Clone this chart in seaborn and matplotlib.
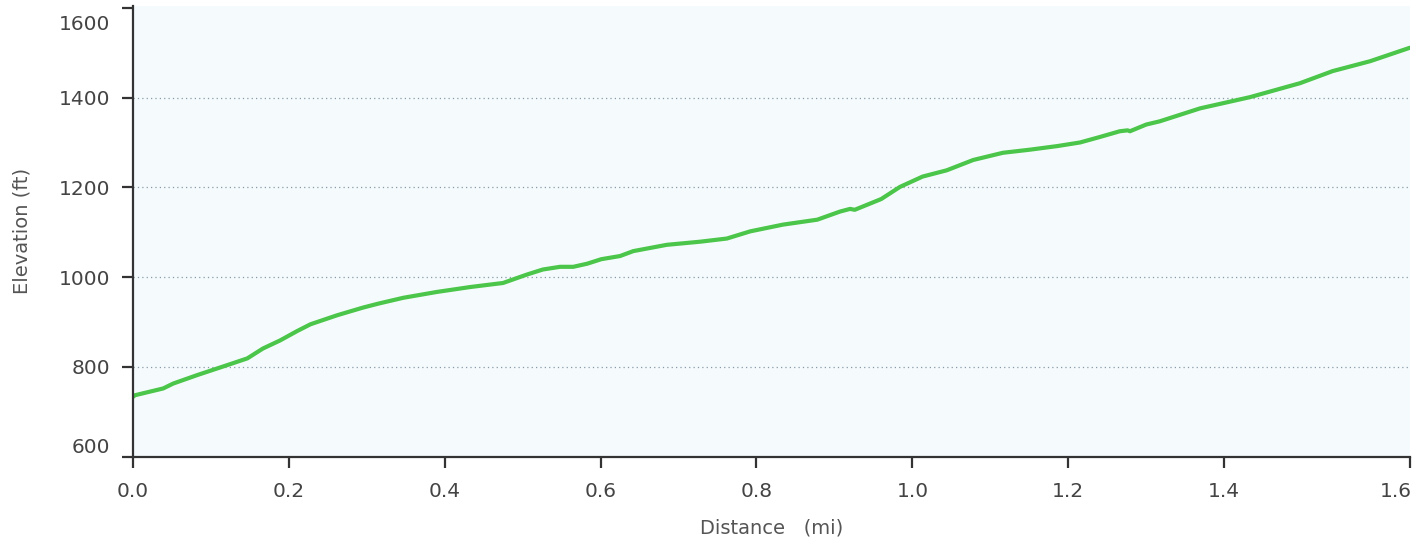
import numpy as np
import pandas as pd
import seaborn as sns
import matplotlib.pyplot as plt
from matplotlib.transforms import ScaledTranslation

# Elevation profile
distance_mi = [0.0, 0.003, 0.039, 0.052, 0.083, 0.116, 0.147, 0.167, 0.189, 0.211,
               0.228, 0.262, 0.295, 0.315, 0.347, 0.39, 0.433, 0.475, 0.488, 0.506,
               0.526, 0.548, 0.565, 0.583, 0.601, 0.625, 0.642, 0.685, 0.728, 0.762,
               0.792, 0.834, 0.878, 0.907, 0.92, 0.926, 0.96, 0.984, 1.013, 1.044,
               1.078, 1.116, 1.151, 1.186, 1.215, 1.24, 1.266, 1.276, 1.279, 1.3,
               1.317, 1.369, 1.433, 1.497, 1.539, 1.587, 1.638]
elevation_ft = [733, 737, 752, 763, 782, 801, 819, 841, 859, 880,
                895, 915, 932, 941, 954, 967, 978, 987, 995, 1006,
                1017, 1023, 1023, 1030, 1040, 1047, 1058, 1072, 1079, 1086,
                1102, 1117, 1128, 1146, 1152, 1150, 1174, 1201, 1224, 1238,
                1261, 1277, 1284, 1292, 1300, 1312, 1325, 1327, 1325, 1340,
                1347, 1376, 1401, 1432, 1459, 1481, 1511]

x_ticks = [0.0, 0.2, 0.4, 0.6, 0.8, 1.0, 1.2, 1.4, 1.638]
x_tick_labels = ["0.0", "0.2", "0.4", "0.6", "0.8", "1.0", "1.2", "1.4", "1.6"]
y_ticks = [600, 800, 1000, 1200, 1400, 1600]

df = pd.DataFrame({"distance": distance_mi, "elevation": elevation_ft})

sns.set_style("ticks")
plt.rcParams['font.family'] = ['DejaVu Sans']

fig = plt.figure(figsize=(14.27, 5.45), dpi=100)
ax = fig.add_axes([0.093, 0.162, 0.895, 0.827])
ax.set_facecolor("#f5fbfd")

sns.lineplot(data=df, x="distance", y="elevation", ax=ax, color="#4cc64a",
             linewidth=3.0)

ax.set_xlim(0, 1.638)
ax.set_ylim(600, 1604)
ax.set_xticks(x_ticks)
ax.set_xticklabels(x_tick_labels)
ax.set_yticks(y_ticks)
ax.set_yticklabels([str(v) for v in y_ticks])

ax.yaxis.grid(True, linestyle=(0, (1, 2.5)), color="#8a9aa6", linewidth=0.9)
gl = ax.get_ygridlines()
gl[0].set_visible(False)
gl[-1].set_visible(False)

for s in ["top", "right"]:
    ax.spines[s].set_visible(False)
for s in ["left", "bottom"]:
    ax.spines[s].set_color("#333333")
    ax.spines[s].set_linewidth(1.6)

ax.tick_params(axis="both", colors="#333333", labelcolor="#444444",
               labelsize=14.5, length=8, width=1.6)
ax.tick_params(axis="y", pad=8)
ax.tick_params(axis="x", pad=10)

# end labels sit inside the axis range like in the original
ylabels = ax.get_yticklabels()
ylabels[0].set_va("bottom")
ylabels[-1].set_va("top")
ylabels[-1].set_transform(ylabels[-1].get_transform()
                          + ScaledTranslation(0, -0.07, fig.dpi_scale_trans))
xlabels = ax.get_xticklabels()
xlabels[-1].set_ha("right")
xlabels[-1].set_transform(xlabels[-1].get_transform()
                          + ScaledTranslation(0.02, 0, fig.dpi_scale_trans))

ax.set_xlabel("Distance   (mi)", fontsize=14, color="#555555", labelpad=13)
ax.set_ylabel("Elevation (ft)", fontsize=14, color="#555555", labelpad=20)

fig.savefig("out.png", dpi=100, facecolor="white")
